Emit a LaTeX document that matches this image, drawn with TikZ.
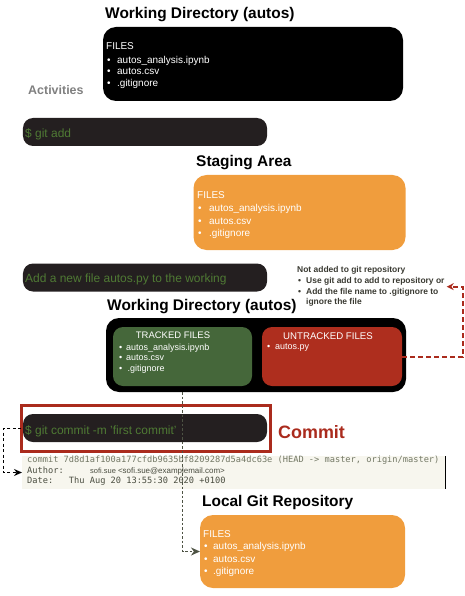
\documentclass[tikz,border=0pt]{standalone}
\usepackage{fontspec}
\setmainfont{Liberation Sans}
\setmonofont{DejaVu Sans Mono}
\usetikzlibrary{arrows.meta}
\definecolor{barfill}{HTML}{241F20}
\definecolor{bargreen}{HTML}{4F7A34}
\definecolor{orangebox}{HTML}{F09D3D}
\definecolor{greenbox}{HTML}{45673A}
\definecolor{redbox}{HTML}{AE2E1E}
\definecolor{commitred}{HTML}{AA2B1D}
\definecolor{logbg}{HTML}{F7F6EE}
\definecolor{loggray}{HTML}{737865}
\definecolor{logdark}{HTML}{4A4D40}
\definecolor{notegray}{HTML}{3A3A32}
\definecolor{flowgray}{HTML}{4E5344}
\newcommand\fbul[1]{\makebox[#1][l]{\hspace{1bp}\textbullet}}
\begin{document}
\begin{tikzpicture}[x=1bp,y=-1bp,
  title/.style={font=\fontsize{15.5}{18}\bfseries\selectfont, inner sep=0, anchor=base west},
  bigbox/.style={rounded corners=13bp, inner sep=0, outer sep=0},
  smallbox/.style={rounded corners=10bp, inner sep=0, outer sep=0},
  bar/.style={fill=barfill, rounded corners=10bp, minimum width=244bp, minimum height=28bp, inner sep=0, outer sep=0},
  bartext/.style={text=bargreen, font=\fontsize{12}{14}\selectfont, anchor=base west, inner sep=0},
  filetext/.style={text=white, align=left, anchor=north west, inner sep=0},
  flow/.style={draw=flowgray, line width=1.7bp, dash pattern=on 2.5bp off 2bp},
  reddash/.style={draw=commitred, line width=2bp, dash pattern=on 5bp off 3bp},
  blackdash/.style={draw=black, line width=1.6bp, dash pattern=on 3bp off 2.5bp}
]
\useasboundingbox (0,0) rectangle (465,596);

% ---- Working directory 1
\node[title] (t1) at (105,18.5) {Working Directory (autos)};
\node[bigbox, fill=black, minimum width=300bp, minimum height=74bp] (wd1) at (253,64) {};
\node[filetext, font=\fontsize{10}{11.5}\selectfont] (wd1txt) at (106,42.6)
  {FILES\\[2bp] \fbul{11bp}autos\_analysis.ipynb\\ \fbul{11bp}autos.csv\\ \fbul{11bp}.gitignore};

\node[font=\fontsize{12.5}{14}\bfseries\selectfont, text=black!50, anchor=base west, inner sep=0] (act) at (28,95) {Activities};

% ---- git add
\node[bar] (bar1) at (145,132) {};
\node[bartext] (bar1txt) at (25,137.3) {\$ git add};

% ---- Staging area
\node[title] (t2) at (196,166.5) {Staging Area};
\node[bigbox, fill=orangebox, minimum width=212bp, minimum height=75bp] (stage) at (299.5,212.5) {};
\node[filetext, font=\fontsize{10}{12.3}\selectfont] (stagetxt) at (197,191.5)
  {FILES\\[1bp] \fbul{12bp}autos\_analysis.ipynb\\ \fbul{12bp}autos.csv\\ \fbul{12bp}.gitignore};

% ---- add new file
\node[bar] (bar2) at (145,277.5) {};
\node[bartext] (bar2txt) at (25,282) {Add a new file autos.py to the working};

\node[font=\fontsize{8.5}{10.7}\bfseries\selectfont, text=notegray, align=left, anchor=north west, inner sep=0] (note) at (297,266.5)
  {Not added to git repository\\ \fbul{9bp}Use git add to add to repository or\\ \fbul{9bp}Add the file name to .gitignore to\\ \hspace*{9bp}ignore the file};

% ---- Working directory 2
\node[title] (t3) at (107,310.5) {Working Directory (autos)};
\node[bigbox, fill=black, minimum width=300bp, minimum height=74bp] (wd2) at (256,355) {};
\node[smallbox, fill=greenbox, minimum width=139bp, minimum height=59bp] (tracked) at (182.5,356.5) {};
\node[smallbox, fill=redbox, minimum width=140bp, minimum height=59bp] (untracked) at (332,356.5) {};
\node[text=white, font=\fontsize{9.5}{11}\selectfont, inner sep=0] (trackedhead) at (173,335.5) {TRACKED FILES};
\node[filetext, font=\fontsize{9}{10.7}\selectfont] (trackedtxt) at (118,343.5)
  {\fbul{8bp}autos\_analysis.ipynb\\ \fbul{8bp}autos.csv\\ \fbul{8bp}\,.gitignore};
\node[text=white, font=\fontsize{9.7}{11}\selectfont, inner sep=0] (untrackedhead) at (328,336) {UNTRACKED FILES};
\node[filetext, font=\fontsize{9}{10.7}\selectfont] (untrackedtxt) at (266,343.5)
  {\fbul{9bp}autos.py};

% ---- commit
\node[bar] (bar3) at (145,428) {};
\node[bartext] (bar3txt) at (25,434.5) {\$ git commit -m 'first commit'};
\node[draw=commitred, line width=3bp, minimum width=249bp, minimum height=46bp, inner sep=0, outer sep=0] (frame) at (146,428.5) {};
\node[font=\fontsize{18}{20}\bfseries\selectfont, text=commitred, anchor=base west, inner sep=0] (committxt) at (278,438) {Commit};

% ---- log
\node[fill=logbg, minimum width=423bp, minimum height=33bp, inner sep=0, outer sep=0] (log) at (233.5,472.5) {};
\draw[black, line width=1bp] (log.north east) -- (log.south east);
\node[anchor=base west, inner sep=0, font=\fontsize{8.7}{10}\ttfamily\selectfont, text=loggray] (log1) at (27,462.5)
  {commit 7d8d1af100a177cfdb9635bf8209287d5a4dc63e (HEAD -> master, origin/master)};
\node[anchor=base west, inner sep=0, font=\fontsize{8.7}{10}\ttfamily\selectfont, text=logdark] (log2) at (27,473)
  {Author:};
\node[anchor=base west, inner sep=0, font=\fontsize{7.5}{9}\selectfont, text=logdark] (log2b) at (90,473)
  {sofi.sue \fontsize{8}{9}\selectfont<sofi.sue@examplemail.com>};
\node[anchor=base west, inner sep=0, font=\fontsize{8.7}{10}\ttfamily\selectfont, text=logdark] (log3) at (27,483)
  {Date:\ \ \ Thu Aug 20 13:55:30 2020 +0100};

% ---- Local repo
\node[title] (t4) at (202,506.5) {Local Git Repository};
\node[bigbox, fill=orangebox, minimum width=205bp, minimum height=73bp] (repo) at (302.5,551.5) {};
\node[filetext, font=\fontsize{10}{12.3}\selectfont] (repotxt) at (203,530.5)
  {FILES\\ \fbul{10bp}autos\_analysis.ipynb\\ \fbul{10bp}autos.csv\\ \fbul{10bp}.gitignore};

% ---- connectors
\draw[flow, -{Stealth[length=9bp,width=8bp]}] (tracked.south |- wd2.south) |- (repo.west);
\draw[reddash, -{Stealth[length=7bp,width=7bp,fill=commitred]}] (untracked.east) -- ++(61,0) |- ([xshift=2bp]note.east);
\draw[blackdash, -{Stealth[length=8bp,width=7bp]}] (frame.west) -- ++(-18,0) |- (log.west);
\end{tikzpicture}
\end{document}
